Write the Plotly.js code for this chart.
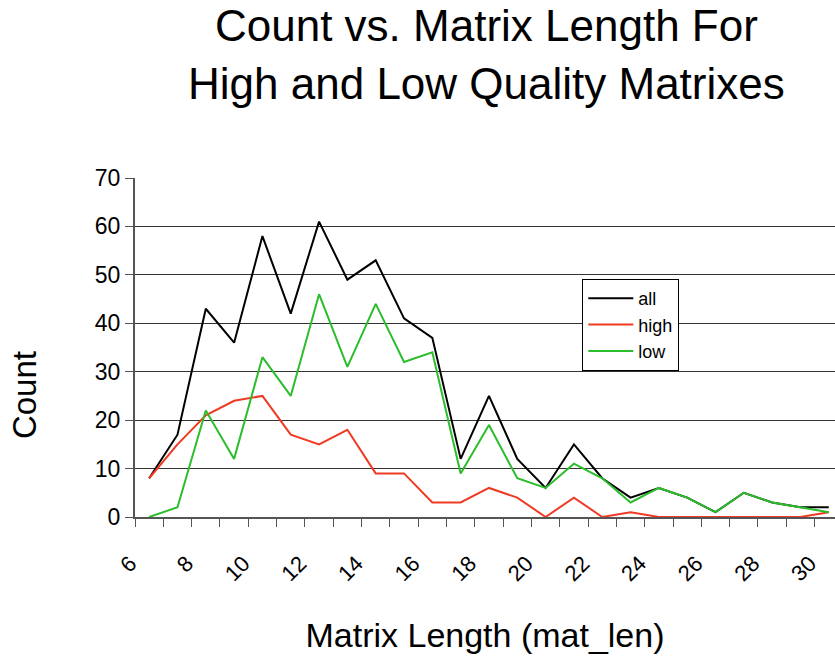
<!DOCTYPE html>
<html>
<head>
<meta charset="utf-8">
<script src="https://cdn.plot.ly/plotly-3.0.1.min.js"></script>
<style>
  html, body { margin: 0; padding: 0; background: #fff; }
  #chart { width: 835px; height: 656px; }
</style>
</head>
<body>
<div id="chart"></div>
<script>
// Matrix lengths (one category per length)
const matLen = [6, 7, 8, 9, 10, 11, 12, 13, 14, 15, 16, 17, 18, 19, 20, 21, 22, 23, 24, 25, 26, 27, 28, 29, 30];

// Counts per length
const countAll  = [8, 17, 43, 36, 58, 42, 61, 49, 53, 41, 37, 12, 25, 12, 6, 15, 8, 4, 6, 4, 1, 5, 3, 2, 2];
const countHigh = [8, 15, 21, 24, 25, 17, 15, 18, 9, 9, 3, 3, 6, 4, 0, 4, 0, 1, 0, 0, 0, 0, 0, 0, 1];
const countLow  = [0, 2, 22, 12, 33, 25, 46, 31, 44, 32, 34, 9, 19, 8, 6, 11, 8, 3, 6, 4, 1, 5, 3, 2, 1];

// Labelled lengths on the x axis
const xTickVals = [6, 8, 10, 12, 14, 16, 18, 20, 22, 24, 26, 28, 30];
const xTickText = xTickVals.map(String);

const FONT = 'Liberation Sans, Arial, Helvetica, sans-serif';

const traces = [
  { name: 'all',  x: matLen, y: countAll,  type: 'scatter', mode: 'lines',
    line: { color: '#000000', width: 2 } },
  { name: 'high', x: matLen, y: countHigh, type: 'scatter', mode: 'lines',
    line: { color: '#ef3a24', width: 2 } },
  { name: 'low',  x: matLen, y: countLow,  type: 'scatter', mode: 'lines',
    line: { color: '#2cbd2c', width: 2 } }
];

const layout = {
  width: 835,
  height: 656,
  paper_bgcolor: '#ffffff',
  plot_bgcolor: '#ffffff',
  font: { family: FONT, color: '#000000' },
  margin: { l: 135, r: 0, t: 178, b: 139, pad: 0 },
  showlegend: true,
  title: {
    text: 'Count vs. Matrix Length For<br>High and Low Quality Matrixes',
    font: { family: FONT, size: 44, color: '#000000' },
    x: 0.502, xref: 'paper', xanchor: 'center',
    y: 0.937, yref: 'container', yanchor: 'top'
  },
  xaxis: {
    range: [5.5, 30.22],
    tickmode: 'array',
    tickvals: xTickVals,
    ticktext: xTickText,
    ticks: '',
    tickangle: -45,
    ticklabelshift: -19,
    ticklabelstandoff: 23,
    tickfont: { family: FONT, size: 22, color: '#000000' },
    minor: { tick0: 5.5, dtick: 1, ticks: 'outside', ticklen: 8, tickwidth: 1, tickcolor: '#555555', showgrid: false },
    showgrid: false,
    zeroline: false,
    showline: true,
    linecolor: '#555555',
    linewidth: 2,
    title: {
      text: 'Matrix Length (mat_len)',
      font: { family: FONT, size: 34, color: '#000000' },
      standoff: 38
    }
  },
  yaxis: {
    range: [0, 70],
    tickmode: 'linear',
    tick0: 0,
    dtick: 10,
    ticks: 'outside',
    ticklen: 8,
    tickwidth: 1,
    tickcolor: '#555555',
    tickfont: { family: FONT, size: 23, color: '#000000' },
    showgrid: true,
    gridcolor: '#333333',
    gridwidth: 1,
    zeroline: false,
    showline: true,
    linecolor: '#555555',
    linewidth: 2
  },
  legend: {
    x: 0.639, xanchor: 'left',
    y: 0.702, yanchor: 'top',
    bgcolor: '#ffffff',
    bordercolor: '#000000',
    borderwidth: 1,
    itemwidth: 45,
    font: { family: FONT, size: 18, color: '#000000' },
    tracegroupgap: 0
  },
  annotations: [
    {
      text: 'Count',
      textangle: -90,
      xref: 'paper', yref: 'paper',
      x: -0.157, y: 0.36,
      xanchor: 'center', yanchor: 'middle',
      showarrow: false,
      font: { family: FONT, size: 33, color: '#000000' }
    }
  ]
};

Plotly.newPlot('chart', traces, layout, { staticPlot: true, displayModeBar: false });
</script>
</body>
</html>
